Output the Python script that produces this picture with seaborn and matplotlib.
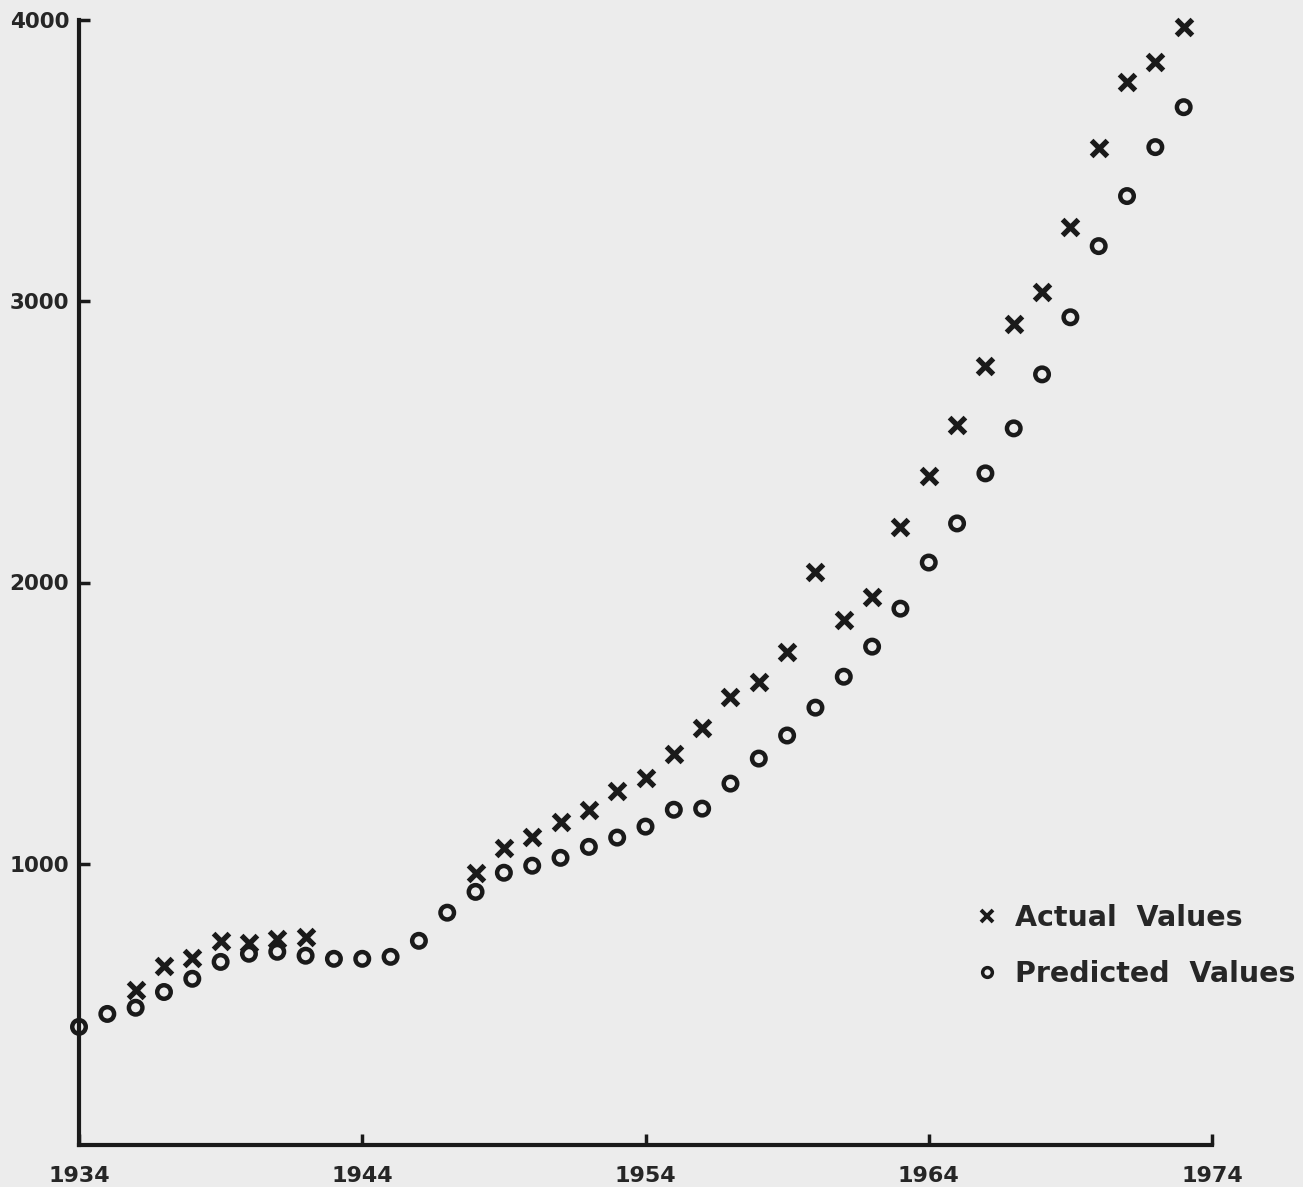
import matplotlib
matplotlib.use("Agg")
import matplotlib.pyplot as plt
from matplotlib.lines import Line2D
import seaborn as sns
import pandas as pd

# Valeurs
annees_pred = list(range(1934, 1974))
valeurs_pred = [420, 466, 488, 544, 591, 651, 680, 687, 673, 662,
                662, 669, 726, 826, 900, 968, 993, 1021, 1060, 1093,
                1132, 1192, 1196, 1285, 1374, 1456, 1555, 1665, 1772, 1907,
                2071, 2210, 2388, 2548, 2740, 2943, 3196, 3374, 3548, 3690]

annees_reel = [1936, 1937, 1938, 1939, 1940, 1941, 1942] + list(range(1948, 1974))
valeurs_reel = [552, 637, 665, 726, 719, 733, 740,
                968, 1057, 1096, 1149, 1192, 1260, 1306, 1391, 1484, 1594,
                1648, 1754, 2036, 1865, 1950, 2196, 2377, 2559, 2769, 2918,
                3032, 3263, 3544, 3779, 3851, 3975]

x_ticks = [1934, 1944, 1954, 1964, 1974]
y_ticks = [1000, 2000, 3000, 4000]

df_pred = pd.DataFrame({"annee": annees_pred, "valeur": valeurs_pred})
df_reel = pd.DataFrame({"annee": annees_reel, "valeur": valeurs_reel})

sns.set_style("ticks")
plt.rcParams["font.family"] = ["DejaVu Sans"]

papier = "#ececec"
fig = plt.figure(figsize=(13.03, 11.87), dpi=100, facecolor=papier)
ax = fig.add_axes([79 / 1303, 1 - 1145 / 1187, (1212 - 79) / 1303, (1145 - 20) / 1187])
ax.set_facecolor(papier)

sns.scatterplot(data=df_pred, x="annee", y="valeur", ax=ax, marker="o", s=95,
                color="black", facecolor="none", edgecolor="#1a1a1a",
                linewidth=3.2, zorder=3, clip_on=False)
sns.scatterplot(data=df_reel, x="annee", y="valeur", ax=ax, marker="x", s=130,
                color="#1a1a1a", linewidth=3.8, zorder=3, clip_on=False)

ax.set_xlim(1934, 1974)
ax.set_ylim(0, 4000)
ax.set_xticks(x_ticks)
ax.set_yticks(y_ticks)
ax.set_xlabel("")
ax.set_ylabel("")
sns.despine(ax=ax)
for cote in ["left", "bottom"]:
    ax.spines[cote].set_linewidth(3)
    ax.spines[cote].set_color("#1a1a1a")
ax.tick_params(axis="both", direction="in", length=8, width=2.5, color="#1a1a1a")
ax.tick_params(axis="x", pad=15)
ax.tick_params(axis="y", pad=7)
for lab in ax.get_xticklabels():
    lab.set_fontweight("bold")
    lab.set_fontsize(16)
    lab.set_family(["Liberation Sans Narrow", "DejaVu Sans"])
for lab in ax.get_yticklabels():
    lab.set_fontweight("bold")
    lab.set_fontsize(15.5)

# Légende à droite en bas
poignees = [
    Line2D([], [], marker="x", ls="none", color="#1a1a1a", markersize=8, markeredgewidth=2.8),
    Line2D([], [], marker="o", ls="none", color="#1a1a1a", markerfacecolor="none",
           markersize=7, markeredgewidth=2.5),
]
ax.legend(poignees, ["Actual  Values", "Predicted  Values"], loc="center left",
          bbox_to_anchor=(950 / 1303, 1 - 946 / 1187), bbox_transform=fig.transFigure,
          frameon=False, handlelength=0.8, handletextpad=0.6, labelspacing=1.0,
          prop={"weight": "bold", "size": 20.5, "family": "DejaVu Sans"})

fig.savefig("out.png", dpi=100, facecolor=papier)
